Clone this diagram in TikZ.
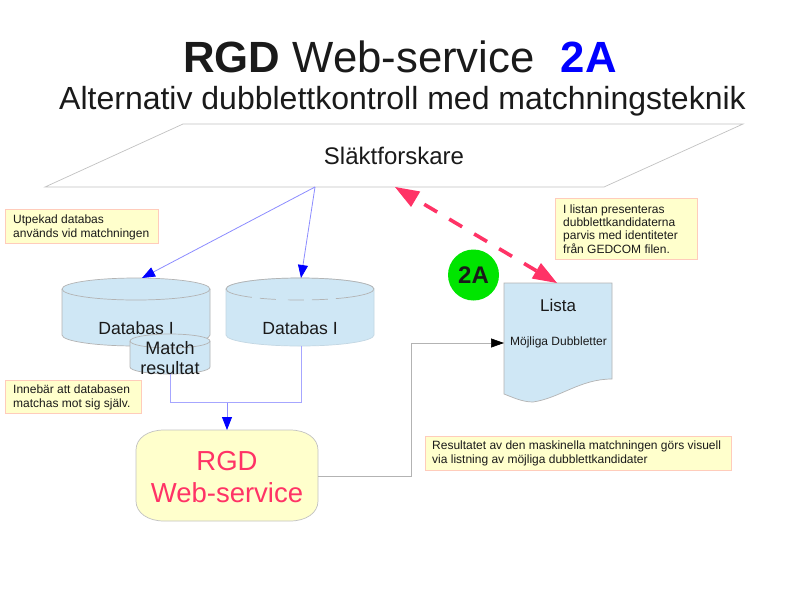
\documentclass[tikz,border=0pt]{standalone}
\usepackage{fontspec}
\setmainfont{Liberation Sans}
\usetikzlibrary{arrows.meta}
\definecolor{dbblue}{HTML}{CFE7F5}
\definecolor{notefill}{HTML}{FFFFCC}
\definecolor{noteline}{HTML}{FFCCBB}
\definecolor{rgdpink}{HTML}{FF3366}
\definecolor{linkblue}{HTML}{0000FF}
\definecolor{inkdark}{HTML}{1A1A1A}
\definecolor{edgegray}{HTML}{B3B3B3}
\tikzset{
 txt/.style={inner sep=0pt,text=inkdark,align=center},
 notebox/.style={draw=noteline,fill=notefill,line width=0.8pt,inner sep=0pt,text=inkdark},
 notetext/.style={font=\fontsize{12}{14}\selectfont,align=left,anchor=west,inner sep=0pt,text=inkdark},
 shapeline/.style={draw=edgegray,line width=0.7pt,fill=dbblue},
 bluelink/.style={draw=linkblue!35,line width=0.8pt},
 bluetip/.style={-{Triangle[length=13pt,width=10pt,color=linkblue]},draw=linkblue!45,line width=0.8pt},
}
\begin{document}
\begin{tikzpicture}[x=1pt,y=-1pt]
\useasboundingbox[fill=white] (0,0) rectangle (794,595);
% titles
\node[txt,anchor=base] (title) at (400,72) {\fontsize{43.7}{50}\selectfont\textbf{RGD} Web-service\hspace{0.6em}\textcolor{linkblue}{\textbf{2A}}};
\node[txt,anchor=base] (subtitle) at (402.5,109) {\fontsize{32}{38}\selectfont Alternativ dubblettkontroll med matchningsteknik};
% researcher plane
\draw[draw=edgegray!80,line width=0.7pt,fill=white] (183,124) -- (743,124) -- (604,187) -- (45,187) -- cycle;
\node[txt] (forskare) at (394,156) {\fontsize{24}{28}\selectfont Släktforskare};
\coordinate (planeout) at (315,187);
\coordinate (planein) at (395,187);
% cylinder 1
\path[shapeline] (62,289) arc[start angle=180,end angle=0,x radius=74pt,y radius=11pt] -- (210,335) arc[start angle=0,end angle=-180,x radius=74pt,y radius=11pt] -- cycle;
\draw[draw=edgegray,line width=0.7pt] (62,289) arc[start angle=180,end angle=360,x radius=74pt,y radius=11pt];
\node[txt] (db1) at (136,328) {\fontsize{17.6}{22}\selectfont Databas I};
\coordinate (db1top) at (142,278);
% cylinder 2
\path[fill=dbblue,draw=dbblue!85!gray,line width=0.7pt] (226,289) arc[start angle=180,end angle=0,x radius=74pt,y radius=11pt] -- (374,335) arc[start angle=0,end angle=-180,x radius=74pt,y radius=11pt] -- cycle;
\draw[draw=edgegray,line width=0.7pt] (226,289) arc[start angle=180,end angle=0,x radius=74pt,y radius=11pt];
\draw[draw=edgegray,line width=0.7pt,dash pattern=on 28pt off 8pt on 16pt off 12pt on 16pt off 8pt on 16pt off 8pt on 40pt] (226,289) arc[start angle=180,end angle=360,x radius=74pt,y radius=11pt];
\node[txt] (db2) at (300,328) {\fontsize{17.6}{22}\selectfont Databas I};
\coordinate (db2top) at (301,278);
\coordinate (db2bot) at (301,346);
% match cylinder
\path[shapeline] (130,341) arc[start angle=180,end angle=0,x radius=40pt,y radius=7pt] -- (210,367) arc[start angle=0,end angle=-180,x radius=40pt,y radius=7pt] -- cycle;
\draw[draw=edgegray,line width=0.7pt] (130,341) arc[start angle=180,end angle=360,x radius=40pt,y radius=7pt];
\node[txt,font=\fontsize{18}{20.5}\selectfont] (match) at (170,358) {Match\\resultat};
\coordinate (matchbot) at (170,374);
% RGD box
\path[draw=edgegray!80,line width=0.7pt,fill=notefill] (164,430) -- (290,430) .. controls (306,430) and (318,438) .. (318,450) -- (318,501) .. controls (318,513) and (306,521) .. (290,521) -- (164,521) .. controls (148,521) and (136,513) .. (136,501) -- (136,450) .. controls (136,438) and (148,430) .. (164,430) -- cycle;
\node[txt,text=rgdpink,font=\fontsize{27.5}{32}\selectfont] (rgd) at (227,477.5) {RGD\\Web-service};
\coordinate (rgdtop) at (227,430);
\coordinate (rgdright) at (318,476);
% document
\path[draw=edgegray,line width=0.7pt,fill=dbblue] (504,283) -- (612,283) -- (612,379) .. controls (580,379) and (560,398) .. (533,402) .. controls (522,402) and (512,397) .. (504,394) -- cycle;
\node[txt] (lista) at (558,305) {\fontsize{17}{20}\selectfont Lista};
\node[txt] (mojliga) at (558.5,342) {\fontsize{12}{14}\selectfont Möjliga Dubbletter};
\coordinate (listatop) at (557,283);
\coordinate (listaleft) at (504,343);
% connectors
\draw[bluetip] (planeout) -- (db1top);
\draw[bluetip] (planeout) -- (db2top);
\coordinate (join) at (227,402.5);
\draw[bluelink] (matchbot) |- (join) -| (db2bot);
\draw[bluetip] (join) -- (rgdtop);
\draw[draw=edgegray,line width=0.7pt,-{Triangle[length=13pt,width=9pt,color=black]}] (rgdright) -| (411.5,343) -- (listaleft);
\draw[draw=rgdpink,line width=3.6pt,dash pattern=on 15pt off 14pt,dash phase=19pt,{Triangle[length=24pt,width=18pt,color=rgdpink,line width=0pt,sep=0pt]}-{Triangle[length=24pt,width=18pt,color=rgdpink,line width=0pt,sep=0pt]}] (planein) -- (listatop);
% badge
\node[circle,fill=green!90!black,draw=none,minimum size=51pt,inner sep=0pt,text=inkdark,font=\bfseries\fontsize{24}{28}\selectfont] (badge) at (473.5,275) {2A};
% notes
\node[notebox,minimum width=153pt,minimum height=34pt] (n1) at (81.5,226) {};
\node[notetext] (n1t) at (13,227) {Utpekad databas\\används vid matchningen};
\node[notebox,minimum width=136pt,minimum height=33pt] (n2) at (73,396.5) {};
\node[notetext] (n2t) at (13,397.5) {Innebär att databasen\\matchas mot sig själv.};
\node[notebox,minimum width=142pt,minimum height=61pt] (n3) at (626,228.5) {};
\node[notetext,font=\fontsize{12}{13.3}\selectfont] (n3t) at (563,229) {I listan presenteras\\dubblettkandidaterna\\parvis med identiteter\\från GEDCOM filen.};
\node[notebox,minimum width=306pt,minimum height=34pt] (n4) at (578,453) {};
\node[notetext] (n4t) at (432,453.5) {Resultatet av den maskinella matchningen görs visuell\\via listning av möjliga dubblettkandidater};
\end{tikzpicture}
\end{document}
